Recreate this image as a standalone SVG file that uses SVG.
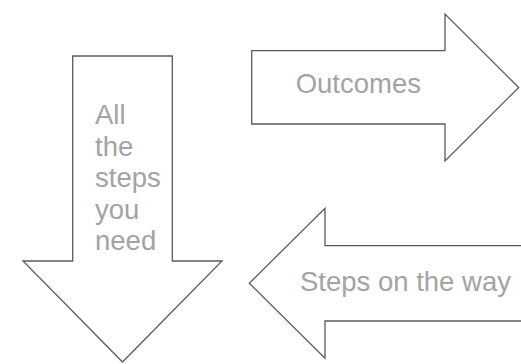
<svg xmlns="http://www.w3.org/2000/svg" width="521" height="364" viewBox="0 0 521 364">
<style>
.arrow{fill:#ffffff;stroke:#595959;stroke-width:1.3;stroke-linejoin:miter}
.lbl{font-family:"Liberation Sans",Arial,sans-serif;font-size:27.5px;fill:#a3a3a3}
</style>
<rect width="521" height="364" fill="#ffffff"/>
<g id="arrow-down">
<polygon class="arrow" points="72.7,56 172.3,56 172.3,261 222,261 122.5,362 23,261 72.7,261"/>
<text class="lbl" x="95" y="124.3">All</text>
<text class="lbl" x="95" y="155.7">the</text>
<text class="lbl" x="95" y="187">steps</text>
<text class="lbl" x="95" y="218.7">you</text>
<text class="lbl" x="95" y="250.3">need</text>
</g>
<g id="arrow-right">
<polygon class="arrow" points="251.7,50.7 445,50.7 445,14 518.7,87.5 445,161 445,124 251.7,124"/>
<text class="lbl" x="295.7" y="93.3">Outcomes</text>
</g>
<g id="arrow-left">
<polygon class="arrow" points="530,245.7 325,245.7 325,208.3 249.3,283.3 325,358.3 325,321 530,321"/>
<text class="lbl" x="300" y="290.5">Steps on the way</text>
</g>
<g id="connectors"></g>
</svg>
